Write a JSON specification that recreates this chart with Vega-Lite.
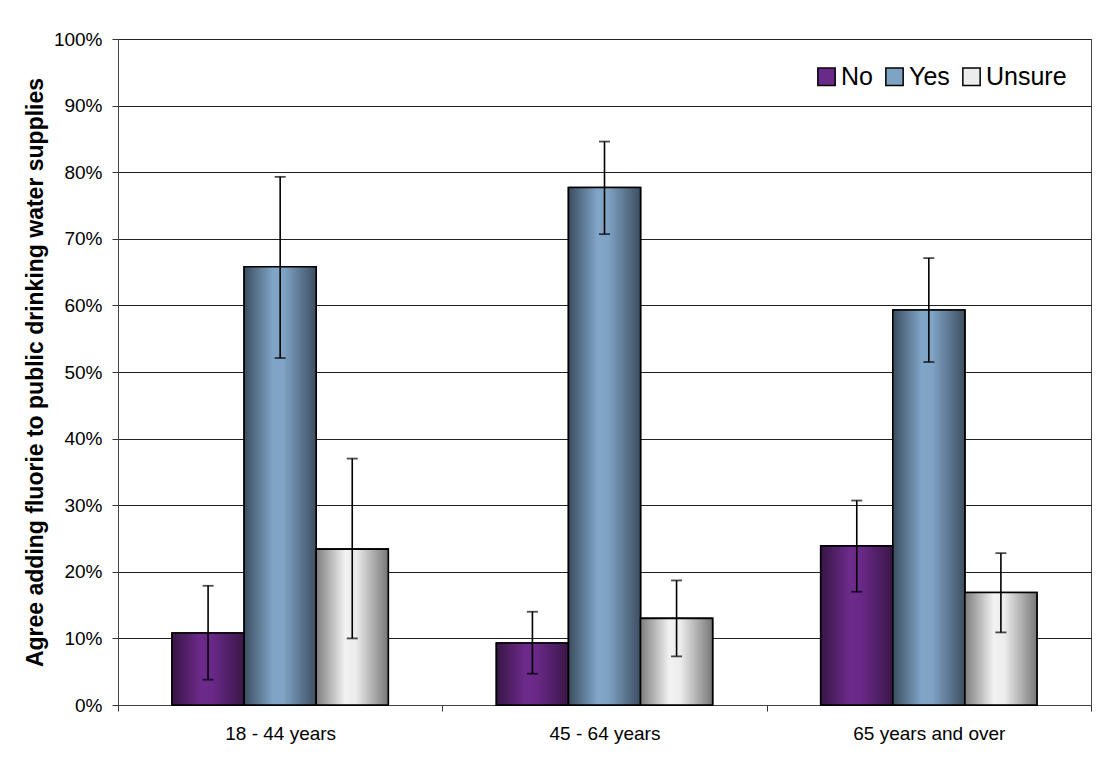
{
  "$schema": "https://vega.github.io/schema/vega-lite/v6.json",
  "width": 973,
  "height": 666,
  "autosize": {"type": "none"},
  "padding": {"left": 118, "top": 39, "right": 15, "bottom": 57},
  "background": "white",
  "config": {
    "font": "Liberation Sans",
    "view": {"stroke": "#444", "strokeWidth": 1},
    "axis": {"labelColor": "black", "labelFont": "Liberation Sans", "titleFont": "Liberation Sans", "titleColor": "black"}
  },
  "data": {
    "values": [
      {"group": "18 - 44 years", "series": "No", "value": 10.8, "lo": 3.8, "hi": 17.9},
      {"group": "18 - 44 years", "series": "Yes", "value": 65.8, "lo": 52.1, "hi": 79.3},
      {"group": "18 - 44 years", "series": "Unsure", "value": 23.4, "lo": 10.0, "hi": 37.0},
      {"group": "45 - 64 years", "series": "No", "value": 9.3, "lo": 4.7, "hi": 14.0},
      {"group": "45 - 64 years", "series": "Yes", "value": 77.7, "lo": 70.7, "hi": 84.6},
      {"group": "45 - 64 years", "series": "Unsure", "value": 13.0, "lo": 7.3, "hi": 18.7},
      {"group": "65 years and over", "series": "No", "value": 23.9, "lo": 17.0, "hi": 30.7},
      {"group": "65 years and over", "series": "Yes", "value": 59.3, "lo": 51.5, "hi": 67.1},
      {"group": "65 years and over", "series": "Unsure", "value": 16.9, "lo": 10.9, "hi": 22.8}
    ]
  },
  "encoding": {
    "x": {
      "field": "group", "type": "nominal",
      "scale": {"domain": ["18 - 44 years", "45 - 64 years", "65 years and over"], "paddingInner": 0, "paddingOuter": 0},
      "axis": {"title": null, "labelAngle": 0, "tickBand": "extent", "labelFontSize": 19, "labelPadding": 13, "tickSize": 6, "tickColor": "#333", "domainColor": "#444", "grid": false}
    },
    "xOffset": {
      "field": "series", "type": "nominal",
      "scale": {"domain": ["No", "Yes", "Unsure"], "paddingInner": 0, "paddingOuter": 0.75}
    },
    "y": {
      "field": "value", "type": "quantitative",
      "scale": {"domain": [0, 100], "nice": false},
      "axis": {
        "values": [0, 10, 20, 30, 40, 50, 60, 70, 80, 90, 100],
        "labelExpr": "datum.value + '%'",
        "labelFontSize": 19, "labelPadding": 10, "tickSize": 6, "tickColor": "#333",
        "domainColor": "#444", "gridColor": "#222", "gridWidth": 1,
        "title": "Agree adding fluorie to public drinking water supplies",
        "titleFontSize": 23, "titleFontWeight": "bold", "titlePadding": 6
      }
    }
  },
  "layer": [
    {
      "mark": {"type": "bar", "stroke": "black", "strokeWidth": 1.6},
      "encoding": {
        "color": {
          "field": "series", "type": "nominal",
          "scale": {"domain": ["No", "Yes", "Unsure"], "range": ["#6a2a8a", "#7fa3c4", "#ececec"]},
          "legend": {
            "orient": "none", "legendX": 696, "legendY": 25, "direction": "horizontal",
            "title": null, "padding": 0, "symbolType": "square", "symbolSize": 300,
            "symbolStrokeColor": "black", "symbolStrokeWidth": 1.5, "symbolOpacity": 1,
            "labelFontSize": 25, "labelColor": "black", "labelFont": "Liberation Sans",
            "labelOffset": 2, "columnPadding": 9
          }
        }
      }
    },
    {
      "transform": [{"filter": "datum.series == 'No'"}],
      "mark": {"type": "bar", "stroke": "black", "strokeWidth": 1.6,
        "fill": {"gradient": "linear", "x1": 0, "x2": 1, "y1": 0, "y2": 0, "stops": [{"offset": 0, "color": "#381645"}, {"offset": 0.4, "color": "#6c2a8b"}, {"offset": 0.55, "color": "#6a2989"}, {"offset": 1, "color": "#3a1747"}]}}
    },
    {
      "transform": [{"filter": "datum.series == 'Yes'"}],
      "mark": {"type": "bar", "stroke": "black", "strokeWidth": 1.6,
        "fill": {"gradient": "linear", "x1": 0, "x2": 1, "y1": 0, "y2": 0, "stops": [{"offset": 0, "color": "#3b4d60"}, {"offset": 0.4, "color": "#80a5c7"}, {"offset": 0.55, "color": "#7fa3c4"}, {"offset": 1, "color": "#3d4e61"}]}}
    },
    {
      "transform": [{"filter": "datum.series == 'Unsure'"}],
      "mark": {"type": "bar", "stroke": "black", "strokeWidth": 1.6,
        "fill": {"gradient": "linear", "x1": 0, "x2": 1, "y1": 0, "y2": 0, "stops": [{"offset": 0, "color": "#7d7d7d"}, {"offset": 0.4, "color": "#f2f2f2"}, {"offset": 0.55, "color": "#ededed"}, {"offset": 1, "color": "#777777"}]}}
    },
    {
      "mark": {"type": "rule", "color": "black", "strokeWidth": 1.6},
      "encoding": {
        "y": {"field": "lo", "type": "quantitative"},
        "y2": {"field": "hi"}
      }
    },
    {
      "mark": {"type": "tick", "color": "black", "size": 11, "thickness": 1.8},
      "encoding": {"y": {"field": "lo", "type": "quantitative"}}
    },
    {
      "mark": {"type": "tick", "color": "black", "size": 11, "thickness": 1.8},
      "encoding": {"y": {"field": "hi", "type": "quantitative"}}
    }
  ]
}
